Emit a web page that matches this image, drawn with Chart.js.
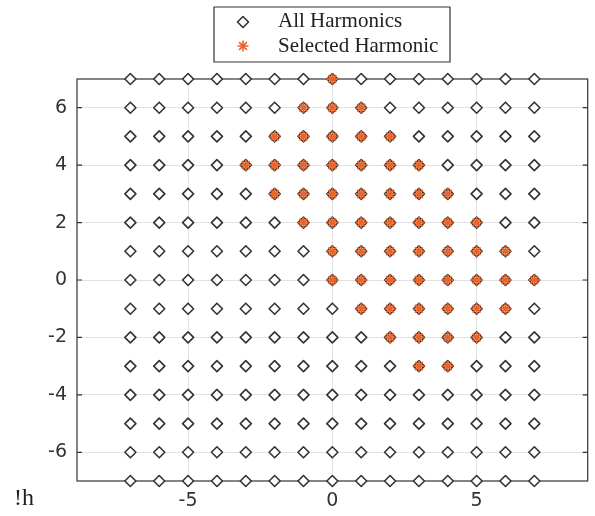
<!DOCTYPE html>
<html>
<head>
<meta charset="utf-8">
<script src="https://cdn.jsdelivr.net/npm/chart.js@4"></script>
<style>
  body { margin: 0; background: #fff; }
  #wrap { position: relative; width: 595px; height: 516px; }
  #hlabel { position: absolute; left: 14px; top: 484px; font: 24px "Liberation Serif", serif; color: #222; }
</style>
</head>
<body>
<div id="wrap">
  <canvas id="harmChart" width="595" height="516"></canvas>
  <div id="hlabel">!h</div>
</div>
<script>
// harmonic orders on each axis
const harmonics = [-7, -6, -5, -4, -3, -2, -1, 0, 1, 2, 3, 4, 5, 6, 7];

// selected harmonics, row by row
const selectedRowY = [7, 6, 5, 4, 3, 2, 1, 0, -1, -2, -3];
const selectedRowX = [
    [0],
    [-1, 0, 1],
    [-2, -1, 0, 1, 2],
    [-3, -2, -1, 0, 1, 2, 3],
    [-2, -1, 0, 1, 2, 3, 4],
    [-1, 0, 1, 2, 3, 4, 5],
    [0, 1, 2, 3, 4, 5, 6],
    [0, 1, 2, 3, 4, 5, 6, 7],
    [1, 2, 3, 4, 5, 6],
    [2, 3, 4, 5],
    [3, 4]
];

const xTicks = [-5, 0, 5];
const yTicks = [-6, -4, -2, 0, 2, 4, 6];

const allPoints = [];
harmonics.forEach(y => harmonics.forEach(x => allPoints.push({x: x, y: y})));
const selPoints = [];
selectedRowY.forEach((y, i) => selectedRowX[i].forEach(x => selPoints.push({x: x, y: y})));

const orange = '#ea642a';

// box, inward ticks and legend, matlab style
const boxPlugin = {
    id: 'box',
    beforeDatasetsDraw(chart) {
        const {ctx, chartArea: a, scales} = chart;
        ctx.save();
        ctx.strokeStyle = '#333';
        ctx.lineWidth = 1.2;
        ctx.strokeRect(a.left, a.top, a.right - a.left, a.bottom - a.top);
        ctx.beginPath();
        xTicks.forEach(v => {
            const px = scales.x.getPixelForValue(v);
            ctx.moveTo(px, a.bottom); ctx.lineTo(px, a.bottom - 5);
            ctx.moveTo(px, a.top); ctx.lineTo(px, a.top + 5);
        });
        yTicks.forEach(v => {
            const py = scales.y.getPixelForValue(v);
            ctx.moveTo(a.left, py); ctx.lineTo(a.left + 5, py);
            ctx.moveTo(a.right, py); ctx.lineTo(a.right - 5, py);
        });
        ctx.stroke();
        ctx.restore();
        ctx.lineJoin = 'round';
    },
    afterDraw(chart) {
        const ctx = chart.ctx;
        ctx.save();
        ctx.fillStyle = '#fff';
        ctx.fillRect(214, 7, 236, 55);
        ctx.strokeStyle = '#333';
        ctx.lineWidth = 1.2;
        ctx.strokeRect(214, 7, 236, 55);
        ctx.lineJoin = 'round';
        ctx.fillStyle = '#fff';
        ctx.lineWidth = 1.6;
        ctx.beginPath();
        ctx.moveTo(243, 16.5); ctx.lineTo(248.5, 22); ctx.lineTo(243, 27.5); ctx.lineTo(237.5, 22); ctx.closePath();
        ctx.fill(); ctx.stroke();
        ctx.strokeStyle = orange;
        Chart.helpers.drawPoint(ctx, {pointStyle: 'star', radius: 5.5, borderWidth: 1.4}, 243, 46);
        ctx.fillStyle = '#222';
        ctx.font = '21px "Liberation Serif", serif';
        ctx.textBaseline = 'middle';
        ctx.fillText('All Harmonics', 278, 21);
        ctx.fillText('Selected Harmonic', 278, 46);
        ctx.restore();
    }
};

new Chart(document.getElementById('harmChart').getContext('2d'), {
    type: 'scatter',
    data: {
        datasets: [{
            label: 'All Harmonics',
            data: allPoints,
            pointStyle: 'rectRot',
            pointRadius: 5.5,
            pointBorderWidth: 1.6,
            pointBorderColor: '#333',
            pointBackgroundColor: '#fff',
            order: 2
        }, {
            label: 'Selected Harmonic',
            data: selPoints,
            pointStyle: 'star',
            pointRadius: 5.5,
            pointBorderWidth: 1.8,
            pointBorderColor: orange,
            pointBackgroundColor: orange,
            order: 1
        }]
    },
    options: {
        responsive: false,
        animation: false,
        clip: false,
        layout: { padding: { top: 79, right: 7, left: 0, bottom: 0 } },
        plugins: { legend: { display: false }, tooltip: { enabled: false } },
        scales: {
            x: {
                min: -8.85, max: 8.85,
                afterBuildTicks: axis => { axis.ticks = xTicks.map(v => ({value: v})); },
                afterFit: axis => { axis.height = 35; },
                grid: { color: '#e2e2e2', drawTicks: false },
                border: { display: false },
                ticks: { color: '#333', padding: 9, font: { family: 'DejaVu Sans', size: 19 } }
            },
            y: {
                min: -7, max: 7,
                afterBuildTicks: axis => { axis.ticks = yTicks.map(v => ({value: v})); },
                afterFit: axis => { axis.width = 77; },
                grid: { color: '#e2e2e2', drawTicks: false },
                border: { display: false },
                ticks: { color: '#333', padding: 10, font: { family: 'DejaVu Sans', size: 19 } }
            }
        }
    },
    plugins: [boxPlugin]
});
</script>
</body>
</html>
